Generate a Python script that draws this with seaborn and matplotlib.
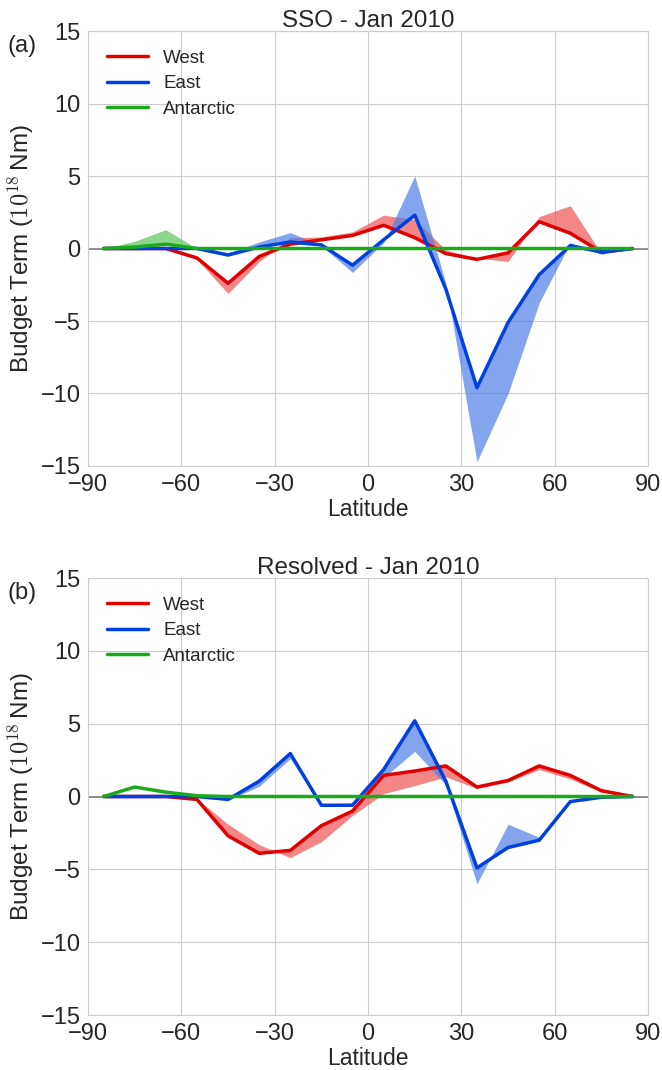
import numpy as np
import matplotlib
matplotlib.use("Agg")
import matplotlib.pyplot as plt
import seaborn as sns

# Latitude bin centres
lat = [-85, -75, -65, -55, -45, -35, -25, -15, -5, 5, 15, 25, 35, 45, 55, 65, 75, 85]

# (a) SSO - line values and the other edge of the shaded range
west_a = [0, 0, 0, -0.65, -2.4, -0.55, 0.3, 0.6, 0.9, 1.6, 0.75, -0.35, -0.75, -0.3, 1.85, 1.05, -0.25, 0]
west_a_edge = [0, 0, 0, -0.75, -3.1, -0.9, 0.75, 0.8, 1.15, 2.3, 2.0, -0.1, -0.65, -0.9, 2.2, 2.95, -0.35, 0]
east_a = [0, 0, 0, 0, -0.45, 0.1, 0.45, 0.25, -1.15, 0.6, 2.3, -2.8, -9.6, -5.1, -1.8, 0.2, -0.25, 0]
east_a_edge = [0, 0, 0, 0, -0.3, 0.45, 1.1, 0.2, -1.65, 0.4, 5.0, -2.4, -14.7, -10.0, -3.75, 0.4, -0.4, 0]
antarctic_a = [0, 0.1, 0.3, 0, 0, 0, 0, 0, 0, 0, 0, 0, 0, 0, 0, 0, 0, 0]
antarctic_a_edge = [0, 0.5, 1.3, 0, 0, 0, 0, 0, 0, 0, 0, 0, 0, 0, 0, 0, 0, 0]

# (b) Resolved
west_b = [0, 0, 0, -0.2, -2.7, -3.9, -3.7, -2.0, -1.0, 1.45, 1.75, 2.1, 0.65, 1.1, 2.1, 1.45, 0.4, 0]
west_b_edge = [0, 0, 0, -0.15, -1.9, -3.3, -4.2, -3.1, -1.3, 0.2, 0.75, 1.35, 0.55, 1.0, 1.85, 1.2, 0.3, 0]
east_b = [0, 0, 0, 0, -0.2, 1.05, 2.95, -0.6, -0.6, 1.85, 5.2, 1.05, -4.9, -3.5, -3.0, -0.35, -0.05, 0]
east_b_edge = [0, 0, 0, 0, -0.25, 0.7, 2.6, -0.5, -0.45, 1.3, 3.1, 0.8, -6.0, -1.9, -2.8, -0.25, -0.05, 0]
antarctic_b = [0, 0.65, 0.3, 0.05, 0, 0, 0, 0, 0, 0, 0, 0, 0, 0, 0, 0, 0, 0]
antarctic_b_edge = [0, 0.65, 0.3, 0.05, 0, 0, 0, 0, 0, 0, 0, 0, 0, 0, 0, 0, 0, 0]

sns.set_style("whitegrid")
plt.rcParams['font.family'] = ['Liberation Sans', 'DejaVu Sans']
plt.rcParams['mathtext.fontset'] = 'cm'

colors = {'West': '#e00000', 'East': '#0040e0', 'Antarctic': '#1aaa1a'}
fills = {'West': '#ee5555', 'East': '#4f7fe8', 'Antarctic': '#5cc75c'}

fig = plt.figure(figsize=(6.62, 10.7), dpi=100)
ax_a = fig.add_axes([0.133, 0.5645, 0.846, 0.4065])
ax_b = fig.add_axes([0.133, 0.0514, 0.846, 0.4084])

panels = [
    (ax_a, 'SSO - Jan 2010', '(a)',
     [('West', west_a, west_a_edge), ('East', east_a, east_a_edge), ('Antarctic', antarctic_a, antarctic_a_edge)]),
    (ax_b, 'Resolved - Jan 2010', '(b)',
     [('West', west_b, west_b_edge), ('East', east_b, east_b_edge), ('Antarctic', antarctic_b, antarctic_b_edge)]),
]

for ax, title, tag, series in panels:
    ax.axhline(0, color='gray', lw=1.2, zorder=1)
    for name, vals, edge in series:
        ax.fill_between(lat, vals, edge, color=fills[name], alpha=0.7, lw=0, zorder=2)
    for name, vals, edge in series:
        sns.lineplot(x=lat, y=vals, color=colors[name], lw=2.5, label=name, ax=ax, zorder=3)
    ax.set_xlim(-90, 90)
    ax.set_ylim(-15, 15)
    ax.set_xticks(range(-90, 91, 30))
    ax.set_yticks(range(-15, 16, 5))
    ax.tick_params(labelsize=17, pad=2)
    ax.set_title(title, fontsize=17.5, pad=3)
    ax.set_xlabel('Latitude', fontsize=16.5, labelpad=2)
    ax.set_ylabel(r'Budget Term ($10^{18}\,$Nm)', fontsize=17.5, labelpad=3)
    ax.legend(loc='upper left', frameon=False, fontsize=13.5, handlelength=2.2,
              borderaxespad=0.6, labelspacing=0.45)
    for s in ax.spines.values():
        s.set_color('#cccccc')
    ax.text(-0.143, 0.965, tag, transform=ax.transAxes, fontsize=17, color='#262626',
            ha='left', va='center')

fig.savefig('out.png', dpi=100)
